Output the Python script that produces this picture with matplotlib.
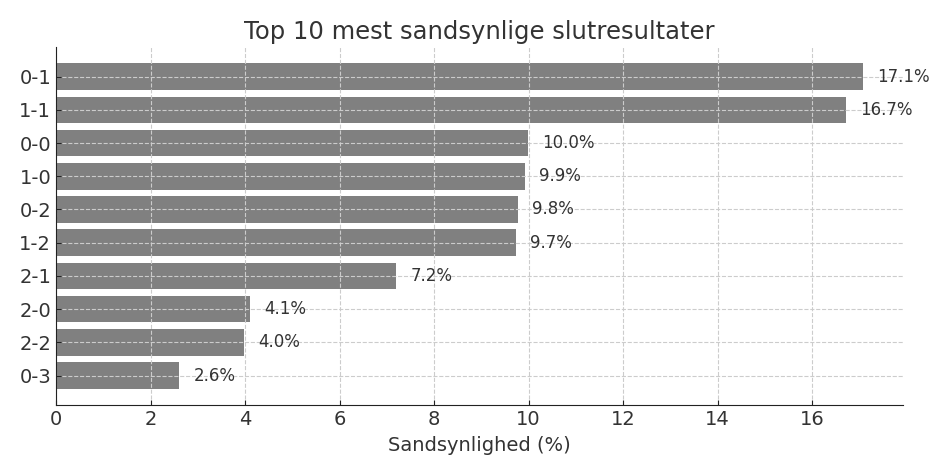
import matplotlib
matplotlib.use("Agg")
import matplotlib.pyplot as plt

# scores and probabilities (%)
scores = ["0-1", "1-1", "0-0", "1-0", "0-2", "1-2", "2-1", "2-0", "2-2", "0-3"]
probs = [17.08, 16.72, 9.98, 9.92, 9.77, 9.73, 7.2, 4.11, 3.98, 2.61]

text_color = "#333333"
plt.rcParams["font.family"] = "DejaVu Sans"

fig, ax = plt.subplots(figsize=(9.5, 4.75), dpi=100)
fig.subplots_adjust(left=0.059, right=0.951, top=0.901, bottom=0.147)

ax.barh(scores, probs, color="#808080", height=0.8)
ax.invert_yaxis()

for i, p in enumerate(probs):
    ax.text(p + 0.3, i, f"{p:.1f}%", va="center", ha="left",
            fontsize=12, color=text_color)

ax.set_title("Top 10 mest sandsynlige slutresultater", fontsize=17.5,
             color=text_color, pad=6)
ax.set_xlabel("Sandsynlighed (%)", fontsize=14, color=text_color, labelpad=5)

ax.grid(True, linestyle="--", color="#cccccc", linewidth=0.8)
ax.set_axisbelow(False)
ax.spines["top"].set_visible(False)
ax.spines["right"].set_visible(False)
for s in ["left", "bottom"]:
    ax.spines[s].set_zorder(5)
    ax.spines[s].set_color("#222222")
ax.tick_params(axis="both", direction="in", labelsize=14,
               colors="#222222", labelcolor=text_color)

fig.savefig("out.png", dpi=100)
